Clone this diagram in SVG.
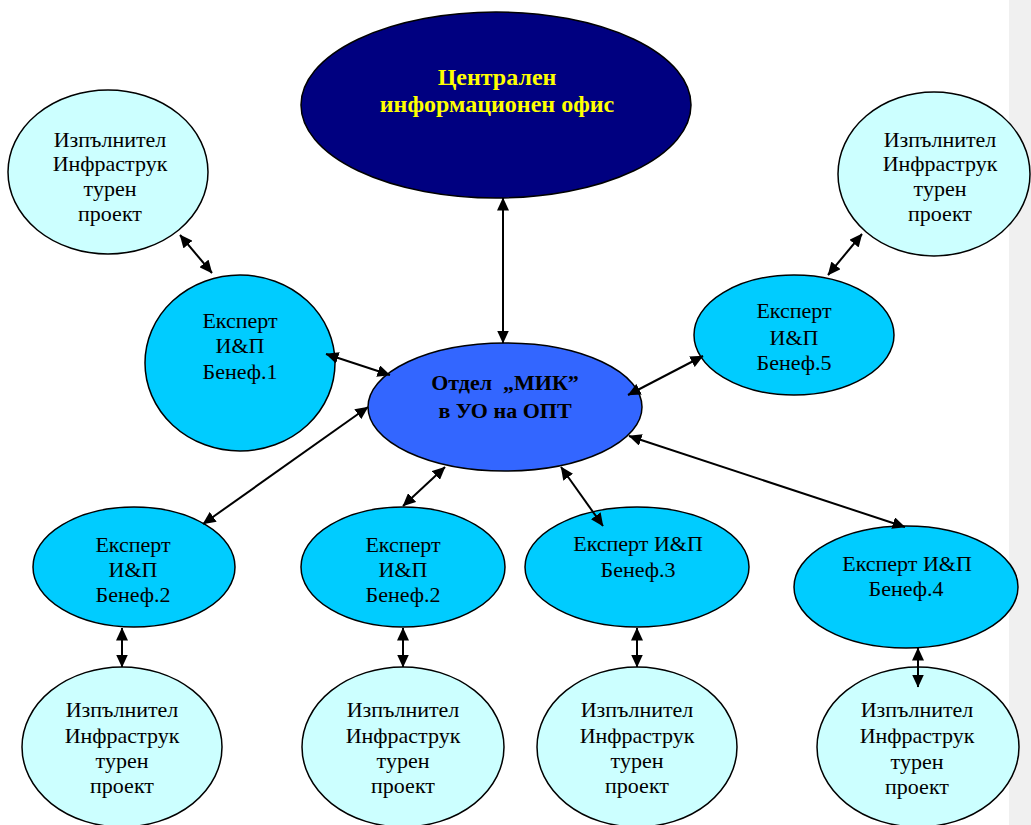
<svg xmlns="http://www.w3.org/2000/svg" width="1031" height="825" viewBox="0 0 1031 825">
<defs>
<style>
.n ellipse{stroke:#000;stroke-width:1.5}
.izp{fill:#ccffff}
.exp{fill:#00ccff}
.t{font-family:"Liberation Serif","Times New Roman",serif;font-size:22px;fill:#000;text-anchor:middle}
.b{font-family:"Liberation Serif","Times New Roman",serif;font-weight:bold;text-anchor:middle}
#edges line{stroke:#000;stroke-width:2;marker-start:url(#ah);marker-end:url(#ah)}
</style>
<marker id="ah" viewBox="0 0 13 12" refX="12.5" refY="6" markerWidth="13" markerHeight="12" markerUnits="userSpaceOnUse" orient="auto-start-reverse">
<path d="M0,0 L13,6 L0,12 z" fill="#000"/>
</marker>
</defs>
<rect x="0" y="0" width="1031" height="825" fill="#fff"/>
<rect x="1009" y="0" width="22" height="825" fill="#f0f0f0"/>

<g id="central" class="n">
<ellipse cx="496" cy="105" rx="195" ry="93" fill="#000080"/>
<text class="b" x="497" y="85" font-size="24" fill="#ffff00">Централен</text>
<text class="b" x="497" y="112" font-size="24" fill="#ffff00">информационен офис</text>
</g>

<g id="izp-tl" class="n">
<ellipse class="izp" cx="108" cy="172" rx="100" ry="82"/>
<text class="t" x="110" y="147">Изпълнител</text>
<text class="t" x="110" y="171">Инфраструк</text>
<text class="t" x="110" y="196">турен</text>
<text class="t" x="110" y="221">проект</text>
</g>

<g id="izp-tr" class="n">
<ellipse class="izp" cx="934" cy="174" rx="96" ry="82"/>
<text class="t" x="940" y="147">Изпълнител</text>
<text class="t" x="940" y="171">Инфраструк</text>
<text class="t" x="940" y="196">турен</text>
<text class="t" x="940" y="221">проект</text>
</g>

<g id="exp1" class="n">
<ellipse class="exp" cx="240" cy="363" rx="95" ry="88"/>
<text class="t" x="240" y="328">Експерт</text>
<text class="t" x="240" y="353">И&amp;П</text>
<text class="t" x="240" y="379">Бенеф.1</text>
</g>

<g id="mik" class="n">
<ellipse cx="505" cy="407" rx="137" ry="64" fill="#3366ff"/>
<text class="b" x="505" y="390" font-size="22" xml:space="preserve">Отдел  „МИК”</text>
<text class="b" x="505" y="418" font-size="22">в УО на ОПТ</text>
</g>

<g id="exp5" class="n">
<ellipse class="exp" cx="794" cy="335" rx="100" ry="60"/>
<text class="t" x="794" y="318">Експерт</text>
<text class="t" x="794" y="345">И&amp;П</text>
<text class="t" x="794" y="370">Бенеф.5</text>
</g>

<g id="exp2a" class="n">
<ellipse class="exp" cx="134" cy="567" rx="101" ry="60"/>
<text class="t" x="133" y="552">Експерт</text>
<text class="t" x="133" y="577">И&amp;П</text>
<text class="t" x="133" y="602">Бенеф.2</text>
</g>

<g id="exp2b" class="n">
<ellipse class="exp" cx="403" cy="567" rx="102" ry="60"/>
<text class="t" x="403" y="552">Експерт</text>
<text class="t" x="403" y="577">И&amp;П</text>
<text class="t" x="403" y="602">Бенеф.2</text>
</g>

<g id="exp3" class="n">
<ellipse class="exp" cx="637" cy="567" rx="112" ry="60"/>
<text class="t" x="638" y="551">Експерт И&amp;П</text>
<text class="t" x="638" y="577">Бенеф.3</text>
</g>

<g id="exp4" class="n">
<ellipse class="exp" cx="906" cy="587" rx="112" ry="61"/>
<text class="t" x="907" y="571">Експерт И&amp;П</text>
<text class="t" x="906" y="596">Бенеф.4</text>
</g>

<g id="izp-b1" class="n">
<ellipse class="izp" cx="122" cy="747" rx="100" ry="80"/>
<text class="t" x="122" y="717">Изпълнител</text>
<text class="t" x="122" y="743">Инфраструк</text>
<text class="t" x="122" y="768">турен</text>
<text class="t" x="122" y="793">проект</text>
</g>

<g id="izp-b2" class="n">
<ellipse class="izp" cx="403" cy="747" rx="101" ry="80"/>
<text class="t" x="403" y="717">Изпълнител</text>
<text class="t" x="403" y="743">Инфраструк</text>
<text class="t" x="403" y="768">турен</text>
<text class="t" x="403" y="793">проект</text>
</g>

<g id="izp-b3" class="n">
<ellipse class="izp" cx="637" cy="747" rx="100" ry="80"/>
<text class="t" x="637" y="717">Изпълнител</text>
<text class="t" x="637" y="743">Инфраструк</text>
<text class="t" x="637" y="768">турен</text>
<text class="t" x="637" y="793">проект</text>
</g>

<g id="izp-b4" class="n">
<ellipse class="izp" cx="918" cy="747" rx="101" ry="80"/>
<text class="t" x="917" y="717">Изпълнител</text>
<text class="t" x="917" y="743">Инфраструк</text>
<text class="t" x="917" y="769">турен</text>
<text class="t" x="917" y="794">проект</text>
</g>

<g id="edges">
<line x1="503" y1="198" x2="503" y2="343"/>
<line x1="180" y1="235" x2="212" y2="273"/>
<line x1="326" y1="354" x2="390" y2="375"/>
<line x1="368" y1="407" x2="203" y2="524"/>
<line x1="445" y1="467" x2="403" y2="506"/>
<line x1="561" y1="467" x2="603" y2="526"/>
<line x1="629" y1="436" x2="905" y2="527"/>
<line x1="628" y1="395" x2="703" y2="356"/>
<line x1="828" y1="275" x2="862" y2="234"/>
<line x1="122" y1="628" x2="122" y2="667"/>
<line x1="403" y1="628" x2="403" y2="667"/>
<line x1="637" y1="628" x2="637" y2="667"/>
<line x1="918" y1="648" x2="918" y2="687"/>
</g>
</svg>
